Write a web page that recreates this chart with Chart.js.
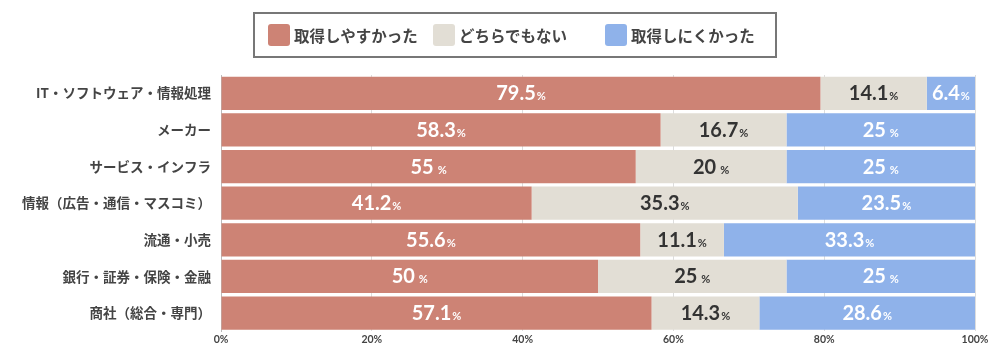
<!DOCTYPE html>
<html>
<head>
<meta charset="utf-8">
<script src="https://cdn.jsdelivr.net/npm/chart.js@4"></script>
<style>
    body { margin: 0; background: #fff; }
    #wrap { position: relative; width: 1000px; height: 350px; }
    #legend {
        position: absolute; left: 253px; top: 12px; width: 520px; height: 42px;
        border: 2px solid #777; display: flex; align-items: center;
        font: bold 15.5px "Noto Sans CJK JP", sans-serif; color: #444;
    }
    .item { position: absolute; display: flex; align-items: center; }
    .box { width: 22px; height: 22px; border-radius: 3px; margin-right: 4px; }
</style>
</head>
<body>
<div id="wrap">
    <canvas id="bar-chart" width="1000" height="350"></canvas>
    <div id="legend"></div>
</div>
<script>
var categories = ["IT・ソフトウェア・情報処理", "メーカー", "サービス・インフラ", "情報（広告・通信・マスコミ）", "流通・小売", "銀行・証券・保険・金融", "商社（総合・専門）"];
var seriesNames = ["取得しやすかった", "どちらでもない", "取得しにくかった"];
var easy = [79.5, 58.3, 55, 41.2, 55.6, 50, 57.1];
var neutral = [14.1, 16.7, 20, 35.3, 11.1, 25, 14.3];
var hard = [6.4, 25, 25, 23.5, 33.3, 25, 28.6];
var tickValues = [0, 20, 40, 60, 80, 100];

var colors = ["#CD8375", "#E2DED5", "#8FB2EA"];
var textColors = ["#fff", "#333", "#fff"];
var legendX = [13, 178, 350];

// legend
var legend = document.getElementById("legend");
seriesNames.forEach(function (name, i) {
    var el = document.createElement("div");
    el.className = "item";
    el.style.left = legendX[i] + "px";
    el.innerHTML = '<span class="box" style="background:' + colors[i] + '"></span><span>' + name + '</span>';
    legend.appendChild(el);
});

var valueLabels = {
    id: "valueLabels",
    afterDatasetsDraw: function (chart) {
        var ctx = chart.ctx;
        ctx.save();
        chart.data.datasets.forEach(function (ds, i) {
            chart.getDatasetMeta(i).data.forEach(function (bar, j) {
                var v = ds.data[j];
                var cx = (bar.x + bar.base) / 2;
                var num = String(v);
                var gap = Number.isInteger(v) ? 4 : 1;
                ctx.font = "bold 20px Lato";
                var w1 = ctx.measureText(num).width;
                ctx.font = "bold 11px Lato";
                var w2 = ctx.measureText("%").width;
                var x0 = cx - (w1 + gap + w2) / 2;
                var y = bar.y + 7;
                ctx.fillStyle = textColors[i];
                ctx.textAlign = "left";
                ctx.textBaseline = "alphabetic";
                ctx.font = "bold 20px Lato";
                ctx.fillText(num, x0, y);
                ctx.font = "bold 11px Lato";
                ctx.fillText("%", x0 + w1 + gap, y);
            });
        });
        ctx.restore();
    }
};

new Chart(document.getElementById("bar-chart").getContext("2d"), {
    type: "bar",
    data: {
        labels: categories,
        datasets: [
            {label: seriesNames[0], data: easy, backgroundColor: colors[0]},
            {label: seriesNames[1], data: neutral, backgroundColor: colors[1]},
            {label: seriesNames[2], data: hard, backgroundColor: colors[2]}
        ]
    },
    options: {
        indexAxis: "y",
        responsive: false,
        animation: false,
        layout: {padding: {top: 75, right: 25, bottom: 2, left: 0}},
        plugins: {legend: {display: false}, tooltip: {enabled: false}},
        datasets: {bar: {barPercentage: 0.91, categoryPercentage: 1}},
        scales: {
            x: {
                stacked: true, min: 0, max: 100,
                afterBuildTicks: function (s) { s.ticks = tickValues.map(function (v) { return {value: v}; }); },
                ticks: {
                    callback: function (v) { return v + "%"; },
                    font: {family: "Lato", size: 10.5, weight: "bold"}, color: "#444", padding: 2, maxRotation: 0
                },
                grid: {color: "#ddd", drawTicks: false},
                border: {display: false}
            },
            y: {
                stacked: true,
                afterFit: function (s) { s.width = 221; },
                ticks: {font: {family: "Noto Sans CJK JP", size: 13.5, weight: "bold"}, color: "#444", padding: 2},
                grid: {display: false},
                border: {color: "#bbb"}
            }
        }
    },
    plugins: [valueLabels]
});
</script>
</body>
</html>
